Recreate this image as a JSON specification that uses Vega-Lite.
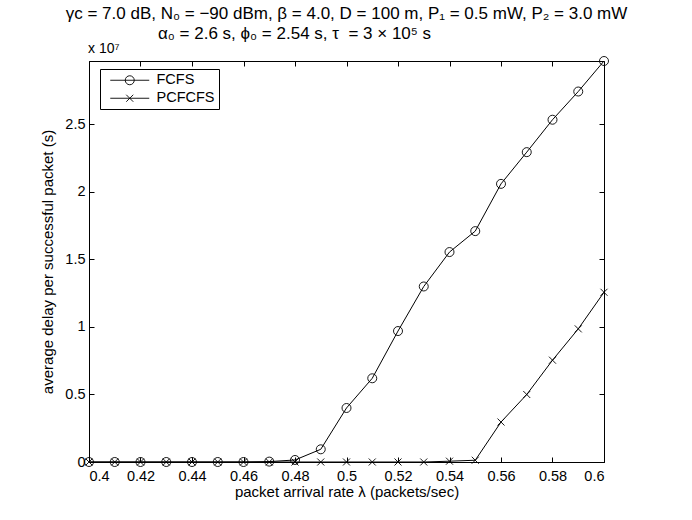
{
  "$schema": "https://vega.github.io/schema/vega-lite/v6.json",
  "width": 515,
  "height": 401,
  "autosize": "none",
  "padding": {"left": 89, "top": 61, "right": 88, "bottom": 58},
  "background": "white",
  "title": {
    "text": ["γc = 7.0 dB, N₀ = −90 dBm, β = 4.0, D = 100 m, P₁ = 0.5 mW, P₂ = 3.0 mW", "α₀ = 2.6 s, ϕ₀ = 2.54 s, τ\u00a0\u00a0= 3 × 10⁵ s\u00a0\u00a0\u00a0\u00a0\u00a0\u00a0\u00a0\u00a0\u00a0\u00a0\u00a0\u00a0\u00a0\u00a0\u00a0\u00a0\u00a0\u00a0\u00a0\u00a0\u00a0\u00a0\u200b"],
    "anchor": "middle",
    "frame": "group",
    "font": "Liberation Sans",
    "fontSize": 17,
    "fontWeight": "normal",
    "color": "black",
    "lineHeight": 20.5,
    "baseline": "alphabetic",
    "offset": 20,
    "dy": 34
  },
  "config": {
    "view": {"stroke": "black", "strokeWidth": 1},
    "axis": {
      "labelFont": "Liberation Sans",
      "labelFontSize": 14.5,
      "labelColor": "black",
      "titleFont": "Liberation Sans",
      "titleFontSize": 15,
      "titleFontWeight": "normal",
      "titleColor": "black",
      "domainColor": "black",
      "tickColor": "black",
      "tickSize": -5,
      "grid": false
    },
    "legend": {
      "labelFont": "Liberation Sans",
      "labelFontSize": 14.5,
      "labelColor": "black"
    }
  },
  "datasets": {
    "d": [
      {"rate": 0.40, "series": "FCFS", "delay": 0},
      {"rate": 0.41, "series": "FCFS", "delay": 0},
      {"rate": 0.42, "series": "FCFS", "delay": 0},
      {"rate": 0.43, "series": "FCFS", "delay": 0},
      {"rate": 0.44, "series": "FCFS", "delay": 0},
      {"rate": 0.45, "series": "FCFS", "delay": 0},
      {"rate": 0.46, "series": "FCFS", "delay": 0},
      {"rate": 0.47, "series": "FCFS", "delay": 30000},
      {"rate": 0.48, "series": "FCFS", "delay": 150000},
      {"rate": 0.49, "series": "FCFS", "delay": 940000},
      {"rate": 0.50, "series": "FCFS", "delay": 4000000},
      {"rate": 0.51, "series": "FCFS", "delay": 6200000},
      {"rate": 0.52, "series": "FCFS", "delay": 9700000},
      {"rate": 0.53, "series": "FCFS", "delay": 13000000},
      {"rate": 0.54, "series": "FCFS", "delay": 15550000},
      {"rate": 0.55, "series": "FCFS", "delay": 17100000},
      {"rate": 0.56, "series": "FCFS", "delay": 20600000},
      {"rate": 0.57, "series": "FCFS", "delay": 22950000},
      {"rate": 0.58, "series": "FCFS", "delay": 25350000},
      {"rate": 0.59, "series": "FCFS", "delay": 27440000},
      {"rate": 0.60, "series": "FCFS", "delay": 29700000},
      {"rate": 0.40, "series": "PCFCFS", "delay": 0},
      {"rate": 0.41, "series": "PCFCFS", "delay": 0},
      {"rate": 0.42, "series": "PCFCFS", "delay": 0},
      {"rate": 0.43, "series": "PCFCFS", "delay": 0},
      {"rate": 0.44, "series": "PCFCFS", "delay": 0},
      {"rate": 0.45, "series": "PCFCFS", "delay": 0},
      {"rate": 0.46, "series": "PCFCFS", "delay": 0},
      {"rate": 0.47, "series": "PCFCFS", "delay": 0},
      {"rate": 0.48, "series": "PCFCFS", "delay": 0},
      {"rate": 0.49, "series": "PCFCFS", "delay": 0},
      {"rate": 0.50, "series": "PCFCFS", "delay": 0},
      {"rate": 0.51, "series": "PCFCFS", "delay": 0},
      {"rate": 0.52, "series": "PCFCFS", "delay": 0},
      {"rate": 0.53, "series": "PCFCFS", "delay": 0},
      {"rate": 0.54, "series": "PCFCFS", "delay": 60000},
      {"rate": 0.55, "series": "PCFCFS", "delay": 130000},
      {"rate": 0.56, "series": "PCFCFS", "delay": 2960000},
      {"rate": 0.57, "series": "PCFCFS", "delay": 5000000},
      {"rate": 0.58, "series": "PCFCFS", "delay": 7540000},
      {"rate": 0.59, "series": "PCFCFS", "delay": 9860000},
      {"rate": 0.60, "series": "PCFCFS", "delay": 12570000}
    ]
  },
  "data": {"name": "d"},
  "layer": [
    {
      "mark": {"type": "line", "color": "black", "strokeWidth": 1},
      "encoding": {
        "x": {
          "field": "rate", "type": "quantitative",
          "scale": {"domain": [0.4, 0.6], "nice": false, "zero": false},
          "axis": {
            "title": "packet arrival rate λ (packets/sec)",
            "values": [0.4, 0.42, 0.44, 0.46, 0.48, 0.5, 0.52, 0.54, 0.56, 0.58, 0.6],
            "format": "~g",
            "labelPadding": 12,
            "titlePadding": 2
          }
        },
        "y": {
          "field": "delay", "type": "quantitative",
          "scale": {"domain": [0, 29700000], "nice": false},
          "axis": {
            "title": "average delay per successful packet (s)",
            "values": [0, 5000000, 10000000, 15000000, 20000000, 25000000],
            "labelExpr": "datum.value / 10000000 + ''",
            "labelPadding": 9,
            "titlePadding": 9
          }
        },
        "detail": {"field": "series"}
      }
    },
    {
      "mark": {"type": "point", "filled": false, "stroke": "black", "strokeWidth": 0.9, "size": 81, "opacity": 1},
      "encoding": {
        "x": {"field": "rate", "type": "quantitative", "axis": null},
        "y": {"field": "delay", "type": "quantitative", "axis": null},
        "shape": {
          "field": "series", "type": "nominal",
          "scale": {"domain": ["FCFS", "PCFCFS"], "range": ["M-1,0A1,1 0 1,1 1,0A1,1 0 1,1 -1,0Z", "M-0.78,-0.78L0.78,0.78M-0.78,0.78L0.78,-0.78"]},
          "legend": null
        }
      }
    },
    {
      "mark": {"type": "point", "filled": false, "stroke": "black", "strokeWidth": 0.9, "size": 81, "opacity": 0},
      "encoding": {
        "x": {"field": "rate", "type": "quantitative", "axis": {"orient": "top", "labels": false, "title": null, "domain": false, "values": [0.4, 0.42, 0.44, 0.46, 0.48, 0.5, 0.52, 0.54, 0.56, 0.58, 0.6]}},
        "y": {"field": "delay", "type": "quantitative", "axis": {"orient": "right", "labels": false, "title": null, "domain": false, "values": [0, 5000000, 10000000, 15000000, 20000000, 25000000]}},
        "shape": {
          "field": "series", "type": "nominal",
          "scale": {"domain": ["FCFS", "PCFCFS"], "range": ["M-4.33,0H4.33M-1,0A1,1 0 1,1 1,0A1,1 0 1,1 -1,0Z", "M-4.33,0H4.33M-0.78,-0.78L0.78,0.78M-0.78,0.78L0.78,-0.78"]},
          "legend": {
            "title": null,
            "orient": "none",
            "legendX": 11,
            "legendY": 8,
            "strokeColor": "black",
            "fillColor": "white",
            "padding": 4,
            "symbolOpacity": 1,
            "symbolStrokeColor": "black",
            "symbolFillColor": "transparent",
            "symbolStrokeWidth": 0.9,
            "symbolSize": 81,
            "symbolOffset": 18.5,
            "labelOffset": 19.5,
            "rowPadding": 3
          }
        }
      }
    },
    {
      "data": {"values": [{}]},
      "mark": {"type": "text", "text": "x 10⁷", "font": "Liberation Sans", "fontSize": 14, "align": "left", "baseline": "bottom", "dx": -1, "dy": -5, "color": "black"},
      "encoding": {
        "x": {"datum": 0.4, "type": "quantitative", "axis": null},
        "y": {"datum": 29700000, "type": "quantitative", "axis": null}
      }
    }
  ],
  "resolve": {
    "scale": {"shape": "independent"},
    "axis": {"x": "independent", "y": "independent"}
  }
}
